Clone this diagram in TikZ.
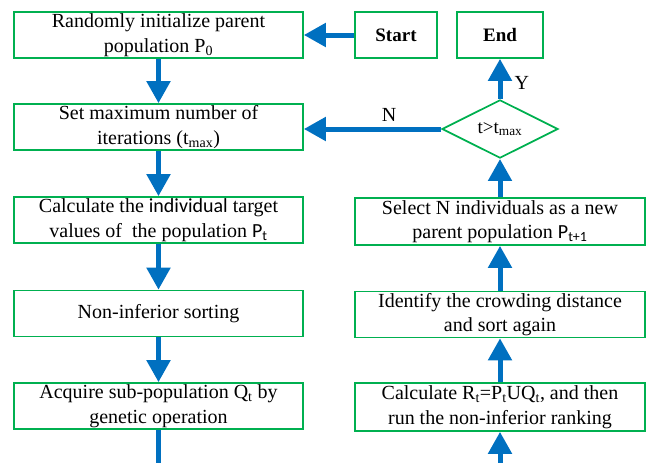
\documentclass[tikz,border=0pt]{standalone}
\usepackage{fontspec}
\setmainfont{Liberation Serif}
\newfontfamily\calib{Carlito}
\usetikzlibrary{arrows.meta,shapes.geometric}
\definecolor{boxgreen}{RGB}{0,176,80}
\definecolor{arrblue}{RGB}{0,112,192}
\begin{document}
\begin{tikzpicture}[x=1pt,y=-1pt,
  box/.style={draw=boxgreen, line width=1.7pt, minimum width=289pt, minimum height=46pt, align=center, inner sep=0pt, font=\fontsize{20}{24.5}\selectfont},
  smallbox/.style={box, minimum width=84pt, font=\fontsize{19}{24}\selectfont\bfseries},
  dec/.style={draw=boxgreen, line width=1.7pt, diamond, minimum width=116pt, minimum height=57pt, inner sep=0pt, font=\fontsize{19}{24}\selectfont},
  arr/.style={draw=arrblue, line width=5pt, -{Triangle[width=23pt,length=22pt]}},
  line/.style={draw=arrblue, line width=5pt},
  lbl/.style={font=\fontsize{20}{24}\selectfont, inner sep=0pt}]
\useasboundingbox (0,0) rectangle (649,463);
\node[box] (b1) at (158.5,35) {Randomly initialize parent\\population P\textsubscript{0}};
\node[box] (b2) at (158.5,127) {Set maximum number of\\iterations (t\textsubscript{max})};
\node[box] (b3) at (158.5,220) {Calculate the {\calib individual} target\\values of\ \ the population {\calib P\textsubscript{t}}};
\node[box] (b4) at (158.5,313.5) {Non-inferior sorting};
\node[box] (b5) at (158.5,406) {Acquire sub-population Q\textsubscript{t} by\\genetic operation};
\node[smallbox, minimum width=82pt] (start) at (396,35) {Start};
\node[smallbox, minimum width=86pt] (end) at (500,35) {End};
\node[dec] (d) at (500,129) {t>t\textsubscript{max}};
\node[box, minimum width=290pt, minimum height=47pt] (sel) at (500,221.5) {Select N individuals as a new\\parent population {\calib P\textsubscript{t+1}}};
\node[box, minimum width=290pt] (idf) at (500,314.5) {Identify the crowding distance\\and sort again};
\node[box, minimum width=290pt, minimum height=48pt] (calc) at (500,407) {Calculate R\textsubscript{t}=P\textsubscript{t}UQ\textsubscript{t}, and then\\run the non-inferior ranking};
\coordinate (lb) at (158.5,463);
\coordinate (rb) at (500,463);
\draw[arr] (start.west) -- (b1.east);
\draw[arr] (b1) -- (b2);
\draw[arr] (b2) -- (b3);
\draw[arr] (b3) -- (b4);
\draw[arr] (b4) -- (b5);
\draw[line] (b5.south) -- (lb);
\draw[arr] (rb) -- (calc.south);
\draw[arr] (calc) -- (idf);
\draw[arr] (idf) -- (sel);
\draw[arr] (sel.north) -- (d.south);
\draw[arr] (d.north) -- node[lbl, right=12pt, pos=0.4] {Y} (end.south);
\draw[arr] (d.west) -- node[lbl, above=5pt, pos=0.38] {N} (b2.east |- d.west);
\end{tikzpicture}
\end{document}
